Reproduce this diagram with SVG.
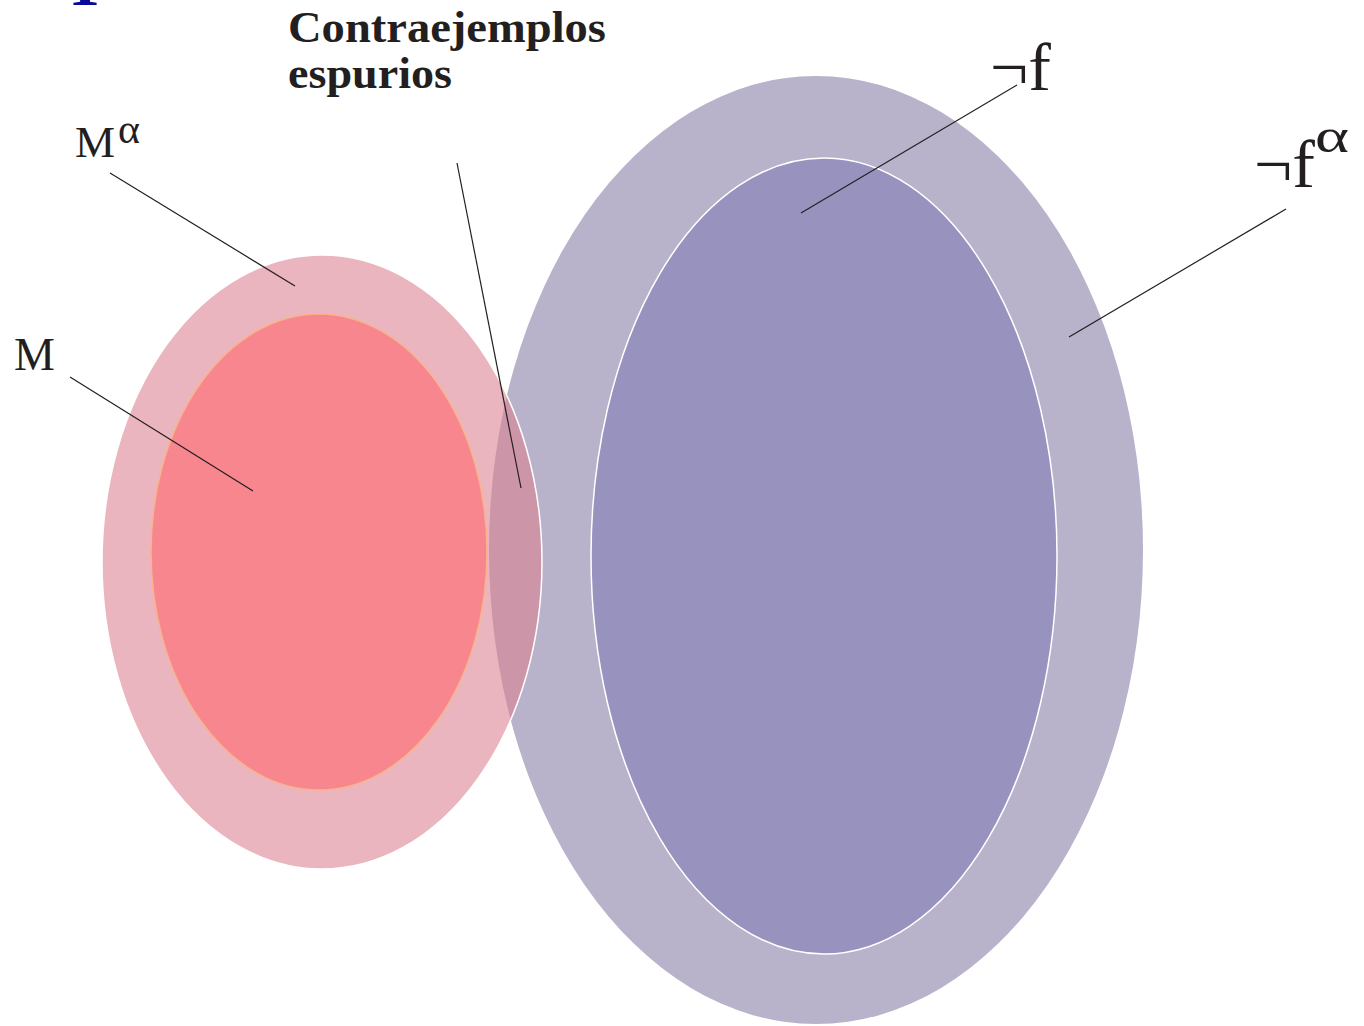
<svg xmlns="http://www.w3.org/2000/svg" width="1364" height="1026" viewBox="0 0 1364 1026">
<style>
.lbl{font-family:"Liberation Serif","Times New Roman",serif;fill:#231f20}
.bold{font-weight:bold}
.ln{stroke:#231f20;stroke-width:1.2;fill:none}
</style>
<rect width="1364" height="1026" fill="#ffffff"/>
<text x="85" y="5" text-anchor="middle" style="font-family:'Liberation Serif',serif;font-weight:bold;font-size:64px;fill:#0a0a9a">T</text>
<g id="notf-alpha"><ellipse cx="816" cy="550" rx="327" ry="474" fill="#b8b2ca"/></g>
<g id="notf"><ellipse cx="824" cy="556" rx="233" ry="398" fill="#9892be" stroke="#ffffff" stroke-width="1.5"/></g>
<g id="M-alpha"><ellipse cx="322" cy="562" rx="220" ry="307" fill="rgb(220,130,145)" fill-opacity="0.59" stroke="#ffffff" stroke-width="1.5"/></g>
<g id="M"><ellipse cx="319" cy="552" rx="168" ry="238" fill="#f7868f" stroke="#f8b48c" stroke-width="1.5"/></g>
<g id="connectors">
<line class="ln" x1="110" y1="173" x2="295" y2="286"/>
<line class="ln" x1="70" y1="377" x2="253" y2="491"/>
<line class="ln" x1="457" y1="163" x2="521" y2="488"/>
<line class="ln" x1="1017" y1="85" x2="801" y2="213"/>
<line class="ln" x1="1286" y1="209" x2="1069" y2="337"/>
</g>
<g id="labels">
<text class="lbl bold" x="288" y="42" font-size="45" textLength="318" lengthAdjust="spacingAndGlyphs">Contraejemplos</text>
<text class="lbl bold" x="288" y="88" font-size="45" textLength="164" lengthAdjust="spacingAndGlyphs">espurios</text>
<text class="lbl" x="75" y="157" font-size="45">M</text>
<text class="lbl" x="118" y="143" font-size="42" textLength="22" lengthAdjust="spacingAndGlyphs">α</text>
<text class="lbl" x="14" y="370" font-size="46">M</text>
<text class="lbl" x="990" y="90" font-size="68">¬f</text>
<text class="lbl" x="1254" y="187" font-size="68">¬f</text>
<text class="lbl" x="1315" y="152" font-size="48" textLength="34" lengthAdjust="spacingAndGlyphs">α</text>
</g>
</svg>
